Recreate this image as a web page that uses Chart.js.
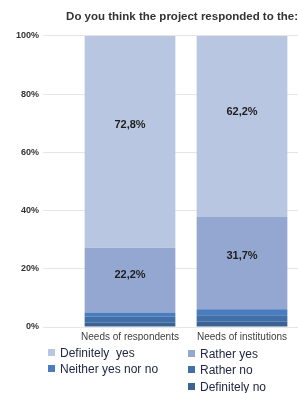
<!DOCTYPE html>
<html>
<head>
    <title>Project responded to needs</title>
    <script src="https://cdn.jsdelivr.net/npm/chart.js"></script>
    <style>
        body { margin: 0; background: #fff; }
        .wrap { position: relative; width: 298px; height: 393px; }
        .legend {
            position: absolute;
            left: 0; top: 0;
            font-family: "Liberation Sans", Arial, sans-serif;
            font-size: 12px;
            color: #232842;
        }
        .legend div {
            position: absolute;
            white-space: pre;
            line-height: 14px;
        }
        .legend span {
            display: inline-block;
            width: 7px; height: 7px;
            margin-right: 5px;
            vertical-align: 1px;
        }
    </style>
</head>
<body>
<div class="wrap">
    <canvas id="chart" width="298" height="393"></canvas>
    <div class="legend" id="legend"></div>
</div>

<script>
    var categories = ["Needs of respondents", "Needs of institutions"];
    var tickLabels = ["0%", "20%", "40%", "60%", "80%", "100%"];

    // bottom to top
    var definitelyNo = [1.5, 1.8];
    var ratherNo = [2.0, 2.2];
    var neither = [1.5, 2.1];
    var ratherYes = [22.2, 31.7];
    var definitelyYes = [72.8, 62.2];

    var shownLabels = {
        "Definitely  yes": ["72,8%", "62,2%"],
        "Rather yes": ["22,2%", "31,7%"]
    };

    var series = [
        { label: "Definitely no", data: definitelyNo, color: "#3a6292" },
        { label: "Rather no", data: ratherNo, color: "#4170a8" },
        { label: "Neither yes nor no", data: neither, color: "#4a7dbd" },
        { label: "Rather yes", data: ratherYes, color: "#94a7d0" },
        { label: "Definitely  yes", data: definitelyYes, color: "#b9c6e1" }
    ];

    // draws the percentage labels a bit above the middle of each segment
    var segmentLabels = {
        id: "segmentLabels",
        afterDatasetsDraw: function (chart) {
            var ctx = chart.ctx;
            var yScale = chart.scales.y;
            ctx.save();
            ctx.font = "bold 11px 'Liberation Sans', Arial, sans-serif";
            ctx.fillStyle = "#1e1e1e";
            ctx.textAlign = "center";
            ctx.textBaseline = "middle";
            chart.data.datasets.forEach(function (ds, i) {
                var texts = shownLabels[ds.label];
                if (!texts) return;
                var meta = chart.getDatasetMeta(i);
                meta.data.forEach(function (bar, j) {
                    var base = 0;
                    for (var k = 0; k < i; k++) base += chart.data.datasets[k].data[j];
                    var y = yScale.getPixelForValue(base + ds.data[j] * 0.58);
                    ctx.fillText(texts[j], bar.x, y);
                });
            });
            ctx.restore();
        }
    };

    var ctx = document.getElementById("chart").getContext("2d");
    new Chart(ctx, {
        type: "bar",
        data: {
            labels: categories,
            datasets: series.map(function (s) {
                return {
                    label: s.label,
                    data: s.data,
                    backgroundColor: s.color,
                    borderWidth: 0,
                    categoryPercentage: 1,
                    barPercentage: 0.81
                };
            })
        },
        options: {
            responsive: false,
            animation: false,
            layout: { padding: { top: 0, right: 0, bottom: 52, left: 0 } },
            plugins: {
                legend: { display: false },
                tooltip: { enabled: false },
                title: {
                    display: true,
                    text: "Do you think the project responded to the:",
                    align: "end",
                    color: "#333",
                    font: { family: "'Liberation Sans', Arial, sans-serif", size: 11.5, weight: "bold" },
                    padding: { top: 10, bottom: 12 }
                }
            },
            scales: {
                x: {
                    stacked: true,
                    grid: { display: false, drawTicks: false },
                    border: { display: false },
                    ticks: {
                        color: "#404040",
                        padding: 4,
                        font: { family: "'Liberation Sans', Arial, sans-serif", size: 10 }
                    },
                    afterFit: function (scale) { scale.height = 14; }
                },
                y: {
                    stacked: true,
                    min: 0,
                    max: 100,
                    grid: { color: "#e6e6e6", tickLength: 31, tickColor: "#e6e6e6" },
                    border: { display: false },
                    ticks: {
                        stepSize: 20,
                        padding: 4,
                        color: "#333",
                        font: { family: "'Liberation Sans', Arial, sans-serif", size: 9, weight: "bold" },
                        callback: function (v, i) { return tickLabels[i]; }
                    },
                    afterFit: function (scale) { scale.width = 74; }
                }
            }
        },
        plugins: [segmentLabels]
    });

    // legend laid out in two columns like the original
    var legendPlaces = {
        "Definitely  yes": [48, 346],
        "Rather yes": [188, 347],
        "Neither yes nor no": [48, 362],
        "Rather no": [188, 363],
        "Definitely no": [188, 380]
    };
    var legend = document.getElementById("legend");
    ["Definitely  yes", "Rather yes", "Neither yes nor no", "Rather no", "Definitely no"].forEach(function (name) {
        var s = series.filter(function (x) { return x.label === name; })[0];
        var item = document.createElement("div");
        item.style.left = legendPlaces[name][0] + "px";
        item.style.top = legendPlaces[name][1] + "px";
        var box = document.createElement("span");
        box.style.background = s.color;
        item.appendChild(box);
        item.appendChild(document.createTextNode(name));
        legend.appendChild(item);
    });
</script>
</body>
</html>
